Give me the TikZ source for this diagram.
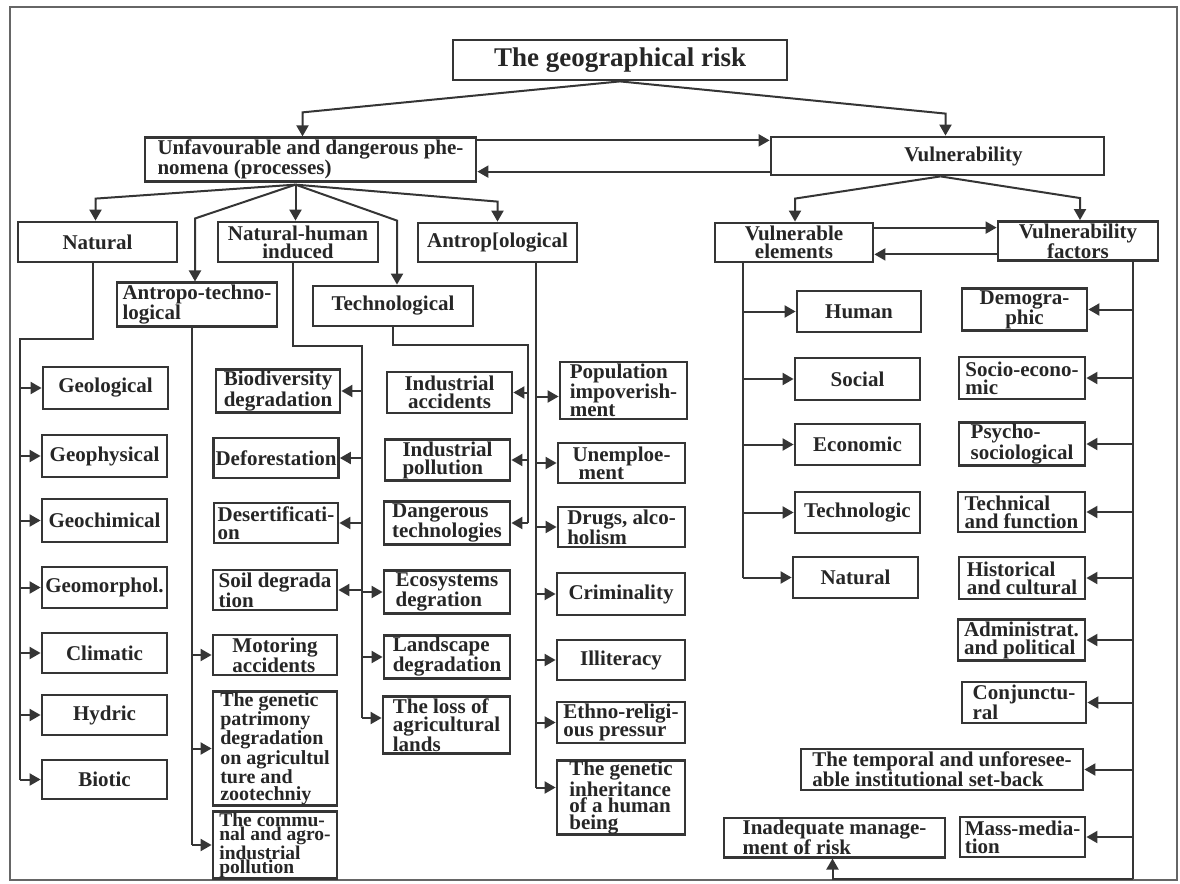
\documentclass[tikz,border=0pt]{standalone}
\usepackage{fontspec}
\setmainfont{Liberation Serif}
\usetikzlibrary{arrows.meta,calc}
\definecolor{ink}{HTML}{353535}
\definecolor{txt}{HTML}{262626}
\tikzset{
  box/.style={draw=ink, line width=2.8pt, inner sep=2pt, text=txt,
    font=\fontsize{21}{18}\selectfont\bfseries},
  conn/.style={draw=ink, line width=2pt},
  arr/.style={conn, -{Triangle[length=11pt,width=12pt]}},
  frameline/.style={draw=black!60, line width=1.2pt}
}
\newcommand\mybox[7]{%
  \pgfmathsetmacro\bxw{#4-#2}\pgfmathsetmacro\bxh{#5-#3}%
  \pgfmathsetmacro\bxcx{(#2+#4)/2}\pgfmathsetmacro\bxcy{(#3+#5)/2}%
  \node[box,minimum width=\bxw pt,minimum height=\bxh pt,#6] (#1) at (\bxcx,\bxcy) {#7};}
\begin{document}
\begin{tikzpicture}[x=1pt,y=-1pt]
\useasboundingbox (0,0) rectangle (1180,883);
\draw[frameline] (10,7) rectangle (1177,880);

% top
\mybox{title}{453}{40}{787}{80}{font=\fontsize{27}{28}\selectfont\bfseries}{The geographical risk}
\mybox{unf}{145}{139}{476}{180}{align=left}{Unfavourable and dangerous phe-\\nomena (processes)}
\mybox{vul}{771}{137}{1104}{175}{}{\hspace*{52pt}Vulnerability}

% left level 2
\mybox{nat}{18}{222}{177}{262}{}{Natural}
\mybox{nh}{218}{222}{378}{262}{align=center}{Natural-human\\induced}
\mybox{antr}{418}{223}{577}{262}{}{Antrop[ological}
\mybox{at}{117}{285}{277}{324}{align=left}{Antropo-techno-\\logical}
\mybox{tech}{313}{286}{473}{326}{}{Technological}

% column 1
\mybox{geol}{43}{367}{168}{409}{}{Geological}
\mybox{geoph}{42}{435}{167}{477}{}{Geophysical}
\mybox{geoch}{42}{499}{167}{542}{}{Geochimical}
\mybox{geom}{42}{567}{167}{608}{}{Geomorphol.}
\mybox{clim}{42}{633}{167}{673}{}{Climatic}
\mybox{hyd}{42}{695}{167}{735}{}{Hydric}
\mybox{bio}{42}{760}{167}{799}{}{Biotic}

% column 2
\mybox{biod}{216}{370}{340}{412}{align=left}{Biodiversity\\degradation}
\mybox{defo}{214}{438}{338}{478}{}{Deforestation}
\mybox{dese}{214}{503}{338}{543}{align=left}{Desertificati-\\on}
\mybox{soil}{213}{570}{337}{610}{align=left}{Soil degrada\\tion}
\mybox{moto}{213}{635}{337}{675}{align=left}{Motoring\\accidents}
\mybox{gpat}{213}{695}{337}{802}{align=left,inner ysep=1pt,font=\fontsize{20}{16.5}\selectfont\bfseries}{The genetic\\patrimony\\degradation\\on agricultul\\ture and\\zootechniy}
\mybox{comm}{213}{813}{337}{877}{align=left,inner ysep=1pt,font=\fontsize{19.5}{14}\selectfont\bfseries}{The commu-\\nal and agro-\\industrial\\pollution}

% column 3
\mybox{inda}{387}{372}{512}{413}{align=center}{Industrial\\accidents}
\mybox{indp}{385}{440}{510}{480}{align=left}{Industrial\\pollution}
\mybox{dang}{384}{503}{510}{543}{align=left}{Dangerous\\technologies}
\mybox{eco}{384}{572}{510}{612}{align=left}{Ecosystems\\degration}
\mybox{land}{384}{637}{510}{677}{align=left}{Landscape\\degradation}
\mybox{loss}{383}{698}{510}{752}{align=left}{The loss of\\agricultural\\lands}

% column 4
\mybox{pop}{560}{363}{687}{418}{align=left}{Population\\impoverish-\\ment}
\mybox{unem}{558}{443}{685}{483}{align=left}{Unemploe-\\\hspace*{6pt}ment}
\mybox{drug}{558}{507}{685}{547}{align=left}{Drugs, alco-\\holism}
\mybox{crim}{557}{573}{685}{615}{}{Criminality}
\mybox{illi}{557}{640}{685}{680}{}{Illiteracy}
\mybox{ethn}{557}{702}{685}{743}{align=left}{Ethno-religi-\\ous pressur}
\mybox{ginh}{557}{762}{685}{833}{align=left,inner ysep=1pt,font=\fontsize{21}{16.5}\selectfont\bfseries}{The genetic\\inheritance\\of a human\\being}

% right
\mybox{ve}{715}{223}{873}{262}{align=center}{Vulnerable\\elements}
\mybox{vf}{998}{222}{1158}{260}{align=center}{Vulnerability\\factors}
\mybox{hum}{797}{291}{921}{332}{}{Human}
\mybox{soc}{795}{358}{920}{400}{}{Social}
\mybox{econ}{795}{424}{920}{465}{}{Economic}
\mybox{techn}{795}{492}{920}{533}{}{Technologic}
\mybox{natv}{793}{557}{918}{598}{}{Natural}

\mybox{dem}{962}{289}{1087}{330}{align=center}{Demogra-\\phic}
\mybox{socec}{959}{357}{1085}{399}{align=left}{Socio-econo-\\mic}
\mybox{psy}{959}{423}{1085}{465}{align=left}{Psycho-\\sociological}
\mybox{tecf}{958}{492}{1085}{532}{align=left}{Technical\\and function}
\mybox{hist}{959}{557}{1085}{599}{align=left}{Historical\\and cultural}
\mybox{adm}{958}{620}{1085}{660}{align=left}{Administrat.\\and political}
\mybox{conj}{962}{682}{1086}{723}{align=left}{Conjunctu-\\ral}
\mybox{temp}{801}{749}{1083}{790}{align=left}{The temporal and unforesee-\\able institutional set-back}
\mybox{mass}{960}{817}{1085}{857}{align=left}{Mass-media-\\tion}
\mybox{inad}{724}{818}{945}{857}{align=left}{Inadequate manage-\\ment of risk}

% ---------- connectors ----------
\draw[arr] (title.south) -- ($(unf.north)+(-8,-24)$) -- ([xshift=-8pt]unf.north);
\draw[arr] (title.south) -- ($(vul.north)+(8,-22)$) -- ([xshift=8pt]vul.north);
\coordinate (u1) at ($(unf.north east)+(0,4)$);
\coordinate (u2) at ($(unf.south east)+(0,-11)$);
\draw[arr] (u1) -- (u1 -| vul.west);
\draw[arr] (u2 -| vul.west) -- (u2);

\draw[arr] ([xshift=3pt]vul.south) -- ($(ve.north)+(1,-23)$) -- ([xshift=1pt]ve.north);
\draw[arr] ([xshift=3pt]vul.south) -- ($(vf.north)+(2,-22)$) -- ([xshift=2pt]vf.north);
\coordinate (v1) at ($(ve.north east)+(0,6)$);
\coordinate (v2) at ($(ve.south east)+(0,-9)$);
\draw[arr] (v1) -- (v1 -| vf.west);
\draw[arr] (v2 -| vf.west) -- (v2);

\coordinate (us) at ($(unf.south)+(-15,2)$);
\draw[arr] (us) -- ($(nat.north)+(-2,-22)$) -- ([xshift=-2pt]nat.north);
\draw[arr] (us) -- (us |- nh.north);
\draw[arr] (us) -- ($(at.north)+(-2,-63)$) -- ([xshift=-2pt]at.north);
\draw[arr] (us) -- ($(tech.north)+(4,-64)$) -- ([xshift=4pt]tech.north);
\draw[arr] (us) -- ($(antr.north)+(0,-20)$) -- (antr.north);

% Natural trunk
\coordinate (n1) at (20,339);
\draw[conn] ([xshift=-5pt]nat.south) |- (n1) -- (n1 |- bio.west);
\foreach \b in {geol,geoph,geoch,geom,clim,hyd,bio}
  \draw[arr] (n1 |- \b.west) -- (\b.west);

% Antropo-technological trunk
\coordinate (a1) at ($(at.south)+(-5,0)$);
\draw[conn] (a1) -- (a1 |- comm.west);
\foreach \b in {moto,gpat,comm}
  \draw[arr] (a1 |- \b.west) -- (\b.west);

% Natural-human trunk
\coordinate (h1) at (362,346);
\coordinate (lossA) at ($(loss.west)+(0,-7)$);
\draw[conn] ([xshift=-5pt]nh.south) |- (h1) -- (h1 |- lossA);
\foreach \b in {biod,defo,dese,soil}
  \draw[arr] (h1 |- \b.east) -- (\b.east);
\foreach \b in {eco,land}
  \draw[arr] (h1 |- \b.west) -- (\b.west);
\draw[arr] (h1 |- lossA) -- (lossA);

% Technological trunk
\coordinate (t1) at (528,345);
\draw[conn] (tech.south) |- (t1) -- (t1 |- dang.east);
\foreach \b in {inda,indp,dang}
  \draw[arr] (t1 |- \b.east) -- (\b.east);

% Antropological trunk
\coordinate (r1) at ($(antr.south)+(38,0)$);
\coordinate (popA) at ($(pop.west)+(0,6)$);
\coordinate (ginhA) at ($(ginh.west)+(0,-10)$);
\draw[conn] (r1) -- (r1 |- ginhA);
\draw[arr] (r1 |- popA) -- (popA);
\foreach \b in {unem,drug,crim,illi,ethn}
  \draw[arr] (r1 |- \b.west) -- (\b.west);
\draw[arr] (r1 |- ginhA) -- (ginhA);

% Vulnerable elements trunk
\coordinate (e1) at ($(ve.south)+(-51,0)$);
\draw[conn] (e1) -- (e1 |- natv.west);
\foreach \b in {hum,soc,econ,techn,natv}
  \draw[arr] (e1 |- \b.west) -- (\b.west);

% Vulnerability factors trunk
\coordinate (f1) at ($(vf.south)+(55,0)$);
\coordinate (f2) at ($(f1)+(0,617)$);
\draw[conn] (f1) -- (f2);
\draw[arr] (f2) -| ([xshift=-2pt]inad.south);
\foreach \b in {dem,socec,psy,tecf,hist,adm,conj,temp,mass}
  \draw[arr] (f1 |- \b.east) -- (\b.east);
\end{tikzpicture}
\end{document}
